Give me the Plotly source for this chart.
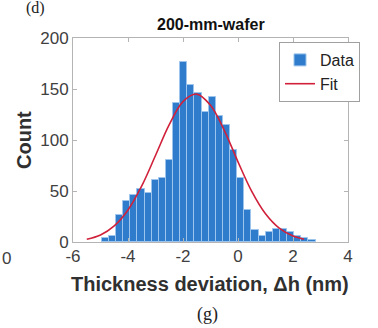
import numpy as np
import plotly.graph_objects as go

# ---- data ----
bin_start = -4.95
bin_width = 0.259
counts = [4, 6, 26, 40, 46, 52, 48, 61, 63, 80, 136, 176, 154, 146, 127, 142,
          124, 115, 90, 63, 31, 12, 6, 10, 13, 13, 10, 6, 4, 2]
bin_centers = [round(bin_start + bin_width * (i + 0.5), 4) for i in range(len(counts))]

fit_x = [-5.5, -5.0, -4.5, -4.0, -3.5, -3.0, -2.5, -2.0, -1.5, -1.0, -0.5,
         0.0, 0.5, 1.0, 1.5, 2.0, 2.4]
fit_y = [2.7, 6.9, 15.8, 31.4, 55, 84.8, 115, 137.7, 145, 134, 109.5,
         78.6, 49.6, 27.6, 13.5, 5.8, 2.7]

x_ticks = [-6, -4, -2, 0, 2, 4]
y_ticks = [0, 50, 100, 150, 200]

FONT = "Liberation Sans"
GRAY = "#404040"
AX = "#b4b4b4"

fig = go.Figure()
fig.add_trace(go.Bar(
    x=bin_centers, y=counts, width=bin_width, name="Data",
    marker=dict(color="#2f7bcc", line=dict(color="#9cc4ec", width=1)),
))
fig.add_trace(go.Scatter(
    x=fit_x, y=fit_y, mode="lines", name="Fit",
    line=dict(color="#d0203a", width=1.6, shape="spline"),
))

W, H = 378, 328
L, R, T, B = 73, 30, 38, 86

def px(xp):
    return (xp - L) / (W - L - R)

def py(yp):
    return (H - B - yp) / (H - T - B)

fig.update_layout(
    width=W, height=H,
    margin=dict(l=L, r=R, t=T, b=B, pad=0),
    paper_bgcolor="white", plot_bgcolor="white",
    bargap=0,
    font=dict(family=FONT, size=17, color=GRAY),
    showlegend=True,
    legend=dict(
        x=px(279), y=py(42), xanchor="left", yanchor="top",
        bgcolor="white", bordercolor="#a0a0a0", borderwidth=1,
        font=dict(family=FONT, size=16, color="#222222"),
        itemwidth=30, tracegroupgap=0,
    ),
)
fig.update_xaxes(
    range=[-6, 4], tickvals=x_ticks, ticktext=[str(v) for v in x_ticks],
    ticks="inside", ticklen=4, tickcolor=AX, showline=True, linecolor=AX,
    linewidth=1, mirror="ticks", showgrid=False, zeroline=False,
    tickfont=dict(family=FONT, size=17, color=GRAY),
    ticklabelstandoff=-1,
)
fig.update_yaxes(
    range=[0, 200], tickvals=y_ticks, ticktext=[str(v) for v in y_ticks],
    ticks="inside", ticklen=4, tickcolor=AX, showline=True, linecolor=AX,
    linewidth=1, mirror="ticks", showgrid=False, zeroline=False,
    tickfont=dict(family=FONT, size=17, color=GRAY),
)

anns = [
    dict(text="<b>200-mm-wafer</b>", x=px(211), y=py(24), font=dict(size=16, color="#111111")),
    dict(text="<b>Thickness deviation, Δh (nm)</b>", x=px(210), y=py(284),
         font=dict(size=20, color="#303030")),
    dict(text="<b>Count</b>", x=px(24), y=py(140), textangle=-90,
         font=dict(size=20, color="#303030")),
    dict(text="(g)", x=px(207), y=py(314),
         font=dict(family="Liberation Serif", size=18, color="#222222")),
    dict(text="(d)", x=px(35), y=py(8),
         font=dict(family="Liberation Serif", size=16, color="#222222")),
    dict(text="0", x=px(6), y=py(258), font=dict(size=17, color=GRAY)),
]
for a in anns:
    a.update(xref="paper", yref="paper", showarrow=False,
             xanchor="center", yanchor="middle")
    a["font"].setdefault("family", FONT)
    fig.add_annotation(**a)

fig.write_html("out.html", config={"displayModeBar": False},
               post_script="document.body.style.margin='0';document.body.style.padding='0';")
